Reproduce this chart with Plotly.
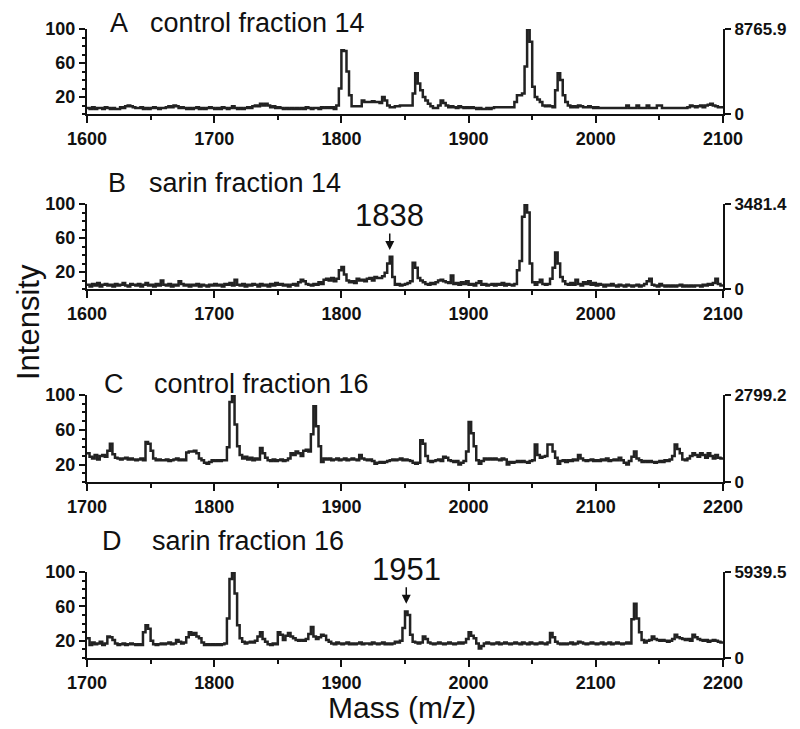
import plotly.graph_objects as go

# ---------------- data ----------------
mz_start_14 = 1600
mz_start_16 = 1700
mz_step = 2
xtick_14 = [1600, 1700, 1800, 1900, 2000, 2100]
xtick_16 = [1700, 1800, 1900, 2000, 2100, 2200]
ytick_left = [20, 60, 100]

# A  control fraction 14 (relative intensity, m/z 1600..2100 step 2)
intensity_A = [
    7, 6, 8, 6, 7, 7, 6, 8, 7, 6,
    7, 6, 6, 8, 7, 9, 10, 9, 8, 7,
    7, 8, 6, 7, 6, 7, 8, 7, 6, 7,
    7, 8, 9, 8, 10, 9, 7, 8, 7, 6,
    7, 6, 7, 8, 6, 7, 6, 7, 8, 7,
    6, 7, 6, 8, 7, 6, 7, 9, 7, 6,
    7, 6, 7, 8, 7, 9, 10, 9, 12, 10,
    12, 10, 8, 9, 7, 8, 7, 6, 7, 6,
    7, 6, 7, 6, 7, 6, 8, 7, 6, 7,
    7, 6, 8, 7, 8, 7, 8, 6, 10, 30,
    75, 74, 50, 22, 9, 9, 9, 9, 16, 14,
    14, 14, 15, 14, 14, 13, 20, 16, 10, 8,
    8, 9, 9, 10, 10, 10, 10, 10, 24, 48,
    36, 28, 20, 16, 12, 9, 7, 7, 10, 16,
    13, 10, 8, 9, 8, 7, 9, 8, 7, 8,
    7, 8, 7, 6, 7, 6, 6, 7, 6, 7,
    8, 8, 8, 8, 8, 8, 8, 8, 14, 22,
    22, 24, 56, 100, 85, 32, 20, 17, 14, 10,
    9, 10, 9, 8, 28, 48, 40, 22, 14, 10,
    8, 9, 8, 10, 9, 8, 8, 9, 8, 7,
    8, 7, 7, 7, 7, 7, 7, 7, 7, 7,
    7, 7, 10, 7, 7, 7, 10, 7, 7, 7,
    10, 7, 7, 7, 10, 10, 7, 7, 7, 7,
    7, 7, 7, 7, 7, 7, 8, 10, 9, 8,
    9, 10, 8, 10, 11, 12, 10, 9, 8, 8,
    7,
]

# B  sarin fraction 14 (m/z 1600..2100 step 2)
intensity_B = [
    5, 3, 6, 4, 7, 3, 5, 6, 4, 5,
    3, 6, 4, 5, 7, 4, 3, 6, 5, 4,
    6, 3, 5, 7, 4, 5, 3, 6, 4, 10,
    5, 4, 6, 3, 5, 4, 9, 6, 4, 5,
    3, 5, 4, 6, 3, 5, 4, 3, 5, 4,
    6, 4, 5, 3, 6, 5, 7, 4, 11, 5,
    4, 6, 3, 5, 4, 6, 5, 3, 6, 4,
    5, 3, 6, 4, 7, 5, 6, 4, 5, 3,
    5, 6, 4, 8, 11, 9, 6, 5, 4, 6,
    5, 8, 6, 11, 12, 10, 13, 9, 12, 22,
    26, 17, 10, 8, 9, 7, 12, 10, 11, 9,
    12, 13, 10, 14, 13, 13, 15, 19, 30, 38,
    14, 5, 6, 4, 5, 6, 7, 9, 31, 25,
    13, 10, 8, 6, 5, 7, 6, 8, 10, 11,
    9, 8, 7, 16, 6, 7, 5, 8, 6, 9,
    5, 6, 4, 7, 9, 5, 6, 4, 5, 6,
    4, 6, 5, 7, 4, 6, 5, 4, 6, 22,
    33, 85, 99, 90, 30, 8, 5, 8, 11, 6,
    5, 6, 12, 25, 43, 30, 14, 9, 6, 5,
    7, 5, 11, 6, 4, 8, 6, 9, 5, 7,
    4, 6, 5, 3, 5, 4, 6, 4, 3, 5,
    4, 3, 5, 4, 3, 4, 5, 3, 4, 6,
    9, 12, 5, 4, 3, 6, 4, 3, 4, 3,
    4, 3, 4, 5, 3, 4, 3, 4, 3, 4,
    4, 3, 5, 4, 6, 5, 7, 12, 6, 4,
    3,
]

# C  control fraction 16 (m/z 1700..2200 step 2)
intensity_C = [
    33, 29, 27, 31, 26, 30, 31, 29, 36, 44,
    32, 28, 27, 26, 27, 28, 26, 27, 26, 25,
    26, 27, 25, 46, 44, 36, 27, 25, 26, 25,
    25, 26, 24, 25, 26, 27, 25, 26, 25, 34,
    35, 35, 36, 33, 27, 25, 22, 21, 23, 25,
    24, 25, 24, 25, 25, 40, 92, 100, 66, 41,
    31, 27, 29, 26, 28, 25, 27, 26, 39, 33,
    28, 25, 24, 26, 24, 25, 26, 24, 25, 27,
    33, 31, 35, 33, 30, 36, 37, 35, 55, 87,
    64, 41, 23, 27, 26, 27, 25, 26, 27, 25,
    26, 27, 25, 26, 27, 26, 25, 31, 27, 26,
    25, 26, 24, 21, 22, 23, 22, 23, 24, 25,
    26, 25, 26, 27, 25, 26, 25, 24, 22, 21,
    22, 48, 44, 30, 24, 23, 24, 25, 26, 24,
    29, 28, 25, 24, 23, 24, 20, 22, 24, 35,
    69, 56, 41, 25, 21, 24, 27, 26, 27, 26,
    27, 26, 25, 27, 26, 20, 23, 22, 23, 24,
    23, 24, 23, 22, 24, 25, 43, 31, 28, 29,
    30, 43, 43, 35, 28, 21, 24, 25, 23, 25,
    24, 26, 25, 31, 27, 25, 24, 25, 26, 24,
    25, 24, 26, 25, 27, 24, 25, 26, 25, 28,
    25, 22, 20, 24, 29, 35, 27, 25, 23, 24,
    23, 24, 23, 22, 23, 24, 23, 25, 24, 26,
    30, 43, 38, 33, 26, 25, 27, 30, 33, 31,
    29, 33, 31, 28, 33, 30, 27, 31, 28, 27,
    27,
]

# D  sarin fraction 16 (m/z 1700..2200 step 2)
intensity_D = [
    23, 15, 18, 16, 17, 19, 15, 17, 25, 24,
    21, 17, 15, 16, 17, 15, 16, 17, 16, 15,
    16, 15, 30, 38, 34, 20, 16, 15, 16, 17,
    16, 17, 18, 16, 17, 21, 19, 17, 18, 24,
    30, 27, 29, 25, 23, 18, 15, 16, 15, 16,
    15, 16, 15, 16, 17, 46, 92, 100, 75, 38,
    23, 19, 17, 18, 19, 18, 20, 25, 30, 22,
    19, 16, 15, 17, 16, 30, 27, 21, 26, 29,
    25, 23, 21, 20, 21, 20, 22, 28, 36, 25,
    22, 24, 27, 26, 21, 19, 17, 16, 18, 17,
    16, 17, 18, 16, 17, 16, 17, 18, 16, 17,
    17, 16, 18, 17, 16, 17, 18, 16, 17, 16,
    17, 19, 18, 20, 35, 54, 50, 27, 19, 18,
    17, 18, 25, 22, 18, 17, 16, 17, 18, 17,
    16, 17, 18, 17, 16, 17, 18, 17, 18, 22,
    30, 26, 23, 17, 11, 14, 17, 18, 17, 16,
    17, 18, 16, 17, 18, 17, 16, 17, 18, 17,
    16, 18, 17, 16, 18, 17, 16, 17, 18, 17,
    16, 18, 29, 24, 19, 17, 16, 17, 16, 17,
    18, 16, 17, 19, 18, 17, 16, 17, 18, 17,
    16, 17, 18, 16, 17, 18, 16, 17, 18, 17,
    16, 17, 18, 17, 45, 63, 46, 30, 21, 18,
    20, 21, 25, 22, 21, 20, 21, 20, 19, 20,
    22, 27, 24, 23, 22, 21, 22, 20, 27, 24,
    22, 21, 20, 21, 19, 20, 21, 20, 19, 18,
    19,
]

panel_letters = ["A", "B", "C", "D"]
panel_names = ["control fraction 14", "sarin fraction 14",
               "control fraction 16", "sarin fraction 16"]
abs_max = [8765.9, 3481.4, 2799.2, 5939.5]
marked_peaks = [(1, 1838, "1838"), (3, 1951, "1951")]

# ---------------- layout helpers ----------------
# the page body adds an 8 px margin, so the figure starts at (8, 8)
OFF = 8
W, H = 800 - OFF, 729 - OFF
def fx(px):
    return (px - OFF) / W
def fy(py):
    return 1 - (py - OFF) / H

x_left, x_right = 87, 723
# pixel rows of value 100 and 0 for each panel (reference image)
rows = [(29, 114), (204, 289), (395, 482), (572, 658)]
letter_pos = [(108, 148, 23), (106, 147, 183), (102, 152, 384), (100, 150, 541)]
arrow_tip = {1: 46, 3: 63}

FONT = "Liberation Sans, Arial, sans-serif"
INK = "#111111"
LINE = "#222222"

series = [intensity_A, intensity_B, intensity_C, intensity_D]
starts = [mz_start_14, mz_start_14, mz_start_16, mz_start_16]
xticks = [xtick_14, xtick_14, xtick_16, xtick_16]

fig = go.Figure()
layout = dict(
    width=W, height=H, autosize=False,
    margin=dict(l=0, r=0, t=0, b=0, pad=0, autoexpand=False),
    paper_bgcolor="white", plot_bgcolor="white",
    showlegend=False,
    font=dict(family=FONT, color=INK),
)
annotations = []

for i in range(4):
    k = i + 1
    kr = i + 5
    xs = "x" if k == 1 else f"x{k}"
    ys = "y" if k == 1 else f"y{k}"
    yrs = f"y{kr}"
    vals = series[i]
    start = starts[i]
    mz = [start + j * mz_step for j in range(len(vals))]
    fig.add_trace(go.Scatter(
        x=mz, y=vals, mode="lines", xaxis=xs, yaxis=ys,
        line=dict(color=LINE, width=2.5, shape="hv"), hoverinfo="skip"))
    fig.add_trace(go.Scatter(
        x=[start], y=[0], mode="lines", xaxis=xs, yaxis=yrs,
        line=dict(width=0), hoverinfo="skip"))

    top, bot = rows[i]
    xa = "xaxis" if k == 1 else f"xaxis{k}"
    ya = "yaxis" if k == 1 else f"yaxis{k}"
    layout[xa] = dict(
        domain=[fx(x_left), fx(x_right)], anchor=ys,
        range=[start, start + 500], tickmode="array", tickvals=xticks[i],
        ticks="outside", ticklen=7, tickwidth=2, tickcolor=INK,
        showline=True, linewidth=2, linecolor=INK,
        showgrid=False, zeroline=False, automargin=False,
        tickfont=dict(family=FONT, size=18, color=INK, weight="bold"),
        minor=dict(ticks="outside", tick0=start, dtick=50, ticklen=4,
                   tickwidth=2, tickcolor=INK, showgrid=False),
        fixedrange=True,
    )
    layout[ya] = dict(
        domain=[fy(bot), fy(top)], anchor=xs,
        range=[0, 100], tickmode="array", tickvals=ytick_left,
        ticks="outside", ticklen=6, tickwidth=2, tickcolor=INK,
        showline=True, linewidth=2, linecolor=INK,
        showgrid=False, zeroline=False, automargin=False,
        tickfont=dict(family=FONT, size=18, color=INK, weight="bold"),
        minor=dict(ticks="outside", tick0=0, dtick=10, ticklen=3,
                   tickwidth=1.5, tickcolor=INK, showgrid=False),
        fixedrange=True,
    )
    layout[f"yaxis{kr}"] = dict(
        overlaying=ys, side="right", anchor=xs,
        range=[0, abs_max[i]], tickmode="array",
        tickvals=[0, abs_max[i]], ticktext=["0", f"{abs_max[i]}"],
        ticks="outside", ticklen=6, tickwidth=2, tickcolor=INK,
        showline=True, linewidth=2, linecolor=INK,
        showgrid=False, zeroline=False, automargin=False,
        tickfont=dict(family=FONT, size=17, color=INK, weight="bold"),
        fixedrange=True,
    )

    lx, tx, ty = letter_pos[i]
    annotations.append(dict(
        text=panel_letters[i], x=fx(lx), y=fy(ty), xref="paper", yref="paper",
        xanchor="left", yanchor="middle", showarrow=False,
        font=dict(family=FONT, size=27, color=INK)))
    annotations.append(dict(
        text=panel_names[i], x=fx(tx), y=fy(ty), xref="paper", yref="paper",
        xanchor="left", yanchor="middle", showarrow=False,
        font=dict(family=FONT, size=27, color=INK)))

for (pi, m, label) in marked_peaks:
    k = pi + 1
    xs = f"x{k}"
    ys = f"y{k}"
    tip = arrow_tip[pi]
    annotations.append(dict(
        text="", x=m, y=tip, xref=xs, yref=ys, showarrow=True,
        ax=0, ay=-18, arrowhead=2, arrowsize=1.2, arrowwidth=1.5,
        arrowcolor=INK))
    annotations.append(dict(
        text=label, x=m, y=tip, xref=xs, yref=ys, showarrow=False,
        yshift=34, xanchor="center", yanchor="middle",
        font=dict(family=FONT, size=31, color=INK)))

annotations.append(dict(
    text="Mass (m/z)", x=fx(402), y=fy(707), xref="paper", yref="paper",
    xanchor="center", yanchor="middle", showarrow=False,
    font=dict(family=FONT, size=30, color=INK)))
annotations.append(dict(
    text="Intensity", x=fx(28), y=fy(322), xref="paper", yref="paper",
    xanchor="center", yanchor="middle", showarrow=False, textangle=-90,
    font=dict(family=FONT, size=31, color=INK)))

layout["annotations"] = annotations
fig.update_layout(**layout)
fig.write_html("out.html")
